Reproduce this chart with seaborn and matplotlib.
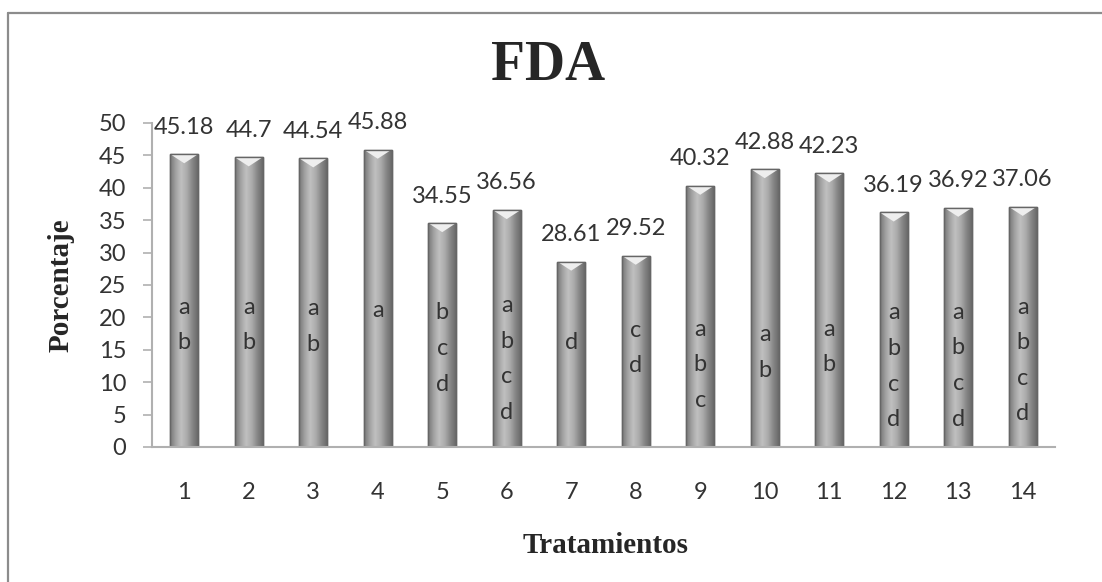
import matplotlib.pyplot as plt
import numpy as np
import pandas as pd
import seaborn as sns
from matplotlib.colors import LinearSegmentedColormap
from matplotlib.patches import Polygon
from matplotlib.lines import Line2D

# data
treatments = ["1", "2", "3", "4", "5", "6", "7", "8", "9", "10", "11", "12", "13", "14"]
values = [45.18, 44.7, 44.54, 45.88, 34.55, 36.56, 28.61, 29.52, 40.32, 42.88, 42.23, 36.19, 36.92, 37.06]
letters = ["ab", "ab", "ab", "a", "bcd", "abcd", "d", "cd", "abc", "ab", "ab", "abcd", "abcd", "abcd"]
# height (in % units) of the first letter of each group
letter_top = [21.6, 21.6, 21.3, 21.0, 20.7, 21.8, 16.2, 18.0, 18.2, 17.3, 18.2, 20.7, 20.8, 21.6]
letter_step = 5.5

sns.set_style("white")
plt.rcParams['font.family'] = ['Lato', 'DejaVu Sans']

fig = plt.figure(figsize=(11.02, 5.82), dpi=100)
ax = fig.add_axes([0.1379, 0.2320, 0.8194, 0.5567])

df = pd.DataFrame({"Tratamiento": treatments, "Porcentaje": values})
sns.barplot(data=df, x="Tratamiento", y="Porcentaje", color="#a0a0a0", width=0.43,
            edgecolor="#666666", linewidth=1.0, ax=ax)

# cylinder-like shading on each bar
grad = LinearSegmentedColormap.from_list("cyl", ["#767676", "#a2a2a2", "#c0c0c0", "#acacac", "#888888", "#6a6a6a"])
shade = np.linspace(0, 1, 64).reshape(1, -1)
for p in ax.patches:
    x0, w, h = p.get_x(), p.get_width(), p.get_height()
    im = ax.imshow(shade, cmap=grad, extent=[x0, x0 + w, 0, h], aspect='auto', zorder=p.get_zorder() + 0.1)
    im.set_clip_path(p)
    # light chevron on top of the bar
    top = Polygon([[x0, h], [x0 + w, h], [x0 + w * 0.5, h - 1.4]], closed=True,
                  facecolor="#eeeeee", edgecolor="none", zorder=p.get_zorder() + 0.2)
    ax.add_patch(top)
    edge = plt.Rectangle((x0, 0), w, h, fill=False, edgecolor="#666666", linewidth=1.0,
                         zorder=p.get_zorder() + 0.3)
    ax.add_patch(edge)

ax.set_xlim(-0.5, len(treatments) - 0.5)
ax.set_ylim(0, 50)
ax.set_yticks(range(0, 51, 5))

# value labels and significance letters
for i, (v, grp, ytop) in enumerate(zip(values, letters, letter_top)):
    ax.annotate(f"{v:g}", (i, v), xytext=(0, 19.5), textcoords='offset points',
                ha='center', va='center', fontsize=17, color="#333333", zorder=5)
    for k, ch in enumerate(grp):
        ax.text(i, ytop - k * letter_step, ch, ha='center', va='center', fontsize=17,
                color="#333333", zorder=5)

for side in ["top", "right"]:
    ax.spines[side].set_visible(False)
for side in ["left", "bottom"]:
    ax.spines[side].set_color("#b0b0b0")
    ax.spines[side].set_linewidth(1.5)

ax.tick_params(axis='y', left=True, length=6.5, width=1.2, color="#b0b0b0", pad=12,
               labelsize=17, labelcolor="#333333")
ax.tick_params(axis='x', bottom=False, pad=22, labelsize=17, labelcolor="#333333")
ax.set_xlabel("")
ax.set_ylabel("")

fig.text(548 / 1102, 1 - 80 / 582, "FDA", ha='center', va='baseline', fontsize=40,
         fontweight='bold', family='Liberation Serif')
fig.text(606 / 1102, 1 - 553 / 582, "Tratamientos", ha='center', va='baseline', fontsize=21,
         fontweight='bold', family='Liberation Serif')
fig.text(61 / 1102, 1 - 285 / 582, "Porcentaje", ha='center', va='center', rotation=90,
         fontsize=21, fontweight='bold', family='Liberation Serif')

# outer chart frame (left and top edges visible)
fig.add_artist(Line2D([8 / 1102, 8 / 1102], [0, 1 - 13 / 582], transform=fig.transFigure,
                      color="#8c8c8c", linewidth=1.6))
fig.add_artist(Line2D([8 / 1102, 1], [1 - 13 / 582, 1 - 13 / 582], transform=fig.transFigure,
                      color="#8c8c8c", linewidth=1.6))

plt.savefig("out.png", dpi=100)
